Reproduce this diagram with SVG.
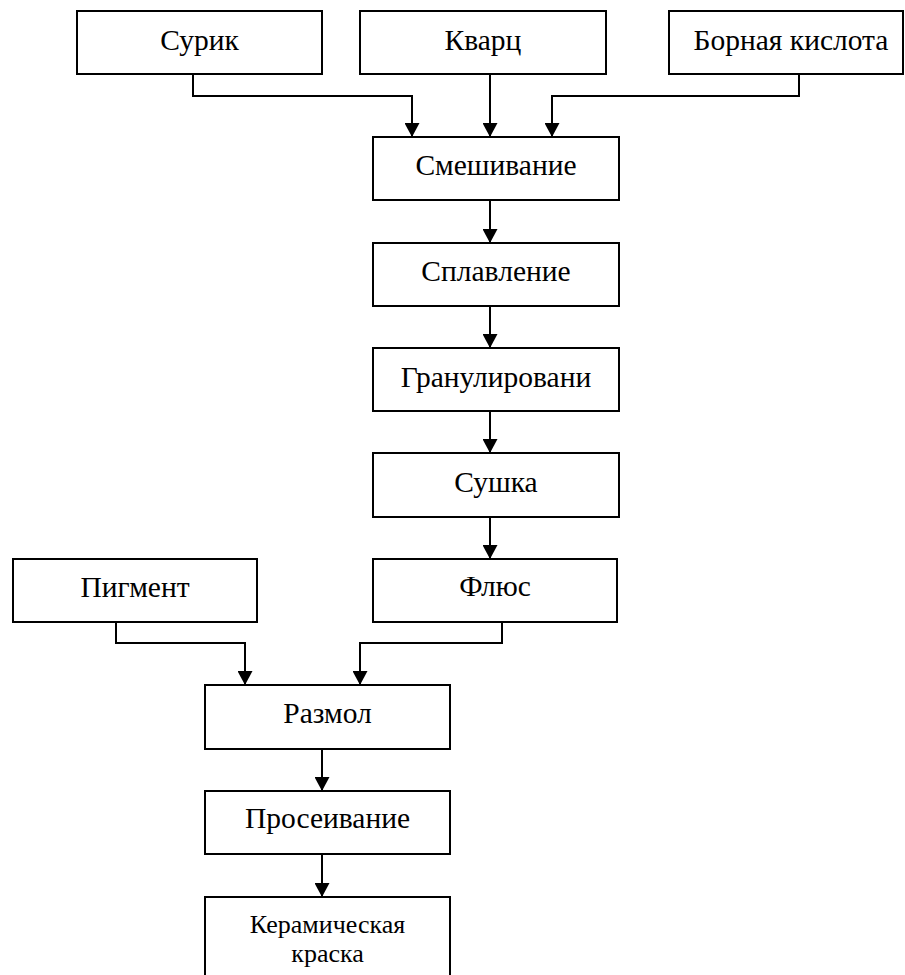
<svg xmlns="http://www.w3.org/2000/svg" width="905" height="975" viewBox="0 0 905 975">
<style>
.box{fill:#fff;stroke:#000;stroke-width:2}
.t{font-family:"Liberation Serif","Times New Roman",serif;font-size:29.5px;fill:#000;text-anchor:middle}
.ts{font-family:"Liberation Serif","Times New Roman",serif;font-size:26px;fill:#000;text-anchor:middle}
.c{fill:none;stroke:#000;stroke-width:2}
</style>
<defs>
<marker id="ah" markerUnits="userSpaceOnUse" markerWidth="15" markerHeight="15" refX="14" refY="7.5" orient="auto">
<path d="M0,0 L14,7.5 L0,15 z" fill="#000"/>
</marker>
</defs>
<rect width="905" height="975" fill="#fff"/>
<g id="connectors">
<path class="c" d="M193,74 V96 H412 V137" marker-end="url(#ah)"/>
<path class="c" d="M490,74 V137" marker-end="url(#ah)"/>
<path class="c" d="M799,74 V96 H552 V137" marker-end="url(#ah)"/>
<path class="c" d="M490,200 V243" marker-end="url(#ah)"/>
<path class="c" d="M490,306 V348" marker-end="url(#ah)"/>
<path class="c" d="M490,411 V453" marker-end="url(#ah)"/>
<path class="c" d="M490,517 V559" marker-end="url(#ah)"/>
<path class="c" d="M116,622 V643 H245 V685" marker-end="url(#ah)"/>
<path class="c" d="M502,622 V643 H360 V685" marker-end="url(#ah)"/>
<path class="c" d="M322,749 V791" marker-end="url(#ah)"/>
<path class="c" d="M322,854 V897" marker-end="url(#ah)"/>
</g>
<g id="surik"><rect class="box" x="77" y="11" width="245" height="63"/><text class="t" x="199.5" y="50">Сурик</text></g>
<g id="kvarc"><rect class="box" x="360" y="11" width="246" height="63"/><text class="t" x="483" y="50">Кварц</text></g>
<g id="bornaya"><rect class="box" x="669" y="11" width="234" height="63"/><text class="t" x="791" y="50">Борная кислота</text></g>
<g id="smeshivanie"><rect class="box" x="373" y="137" width="246" height="63"/><text class="t" x="496" y="175">Смешивание</text></g>
<g id="splavlenie"><rect class="box" x="373" y="243" width="246" height="63"/><text class="t" x="496" y="281">Сплавление</text></g>
<g id="granulirovani"><rect class="box" x="373" y="348" width="246" height="63"/><text class="t" x="496" y="387">Гранулировани</text></g>
<g id="sushka"><rect class="box" x="373" y="453" width="246" height="64"/><text class="t" x="496" y="492">Сушка</text></g>
<g id="flyus"><rect class="box" x="373" y="559" width="244" height="63"/><text class="t" x="495" y="596">Флюс</text></g>
<g id="pigment"><rect class="box" x="13" y="559" width="244" height="63"/><text class="t" x="135" y="597">Пигмент</text></g>
<g id="razmol"><rect class="box" x="205" y="685" width="245" height="64"/><text class="t" x="327.5" y="723">Размол</text></g>
<g id="proseivanie"><rect class="box" x="205" y="791" width="245" height="63"/><text class="t" x="327.5" y="828">Просеивание</text></g>
<g id="kraska"><rect class="box" x="205" y="897" width="245" height="100"/><text class="ts" x="327.5" y="933">Керамическая</text><text class="ts" x="327.5" y="962">краска</text></g>
</svg>
